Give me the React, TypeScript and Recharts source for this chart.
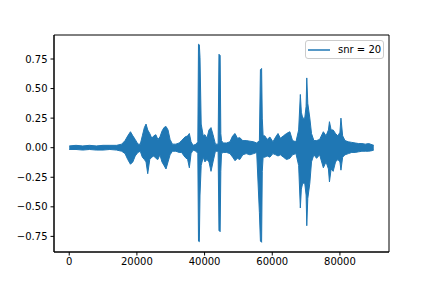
import { Area, ComposedChart, ReferenceArea, XAxis, YAxis } from 'recharts';

// Waveform envelope: sample index, upper and lower excursion
const sampleIdx = [
  0, 2000, 4000, 6000, 8000, 10000, 12000, 14000, 15500, 16500, 17300, 18100, 18800, 19500,
  20300, 21000, 21600, 22200, 22700, 23200, 23800, 24400, 25000, 25600, 26200, 26800, 27400,
  28000, 28600, 29200, 29800, 30500, 31500, 32500, 33200, 34200, 35000, 35500, 36000, 36600,
  37500, 38000, 38200, 38450, 38650, 39000, 39600, 40100, 40700, 41300, 41900, 42500, 43200,
  44000, 44250, 44600, 44800, 45000, 45500, 46500, 47500, 48300, 49000, 49700, 50400, 51300,
  52300, 53400, 54500, 55400, 56200, 56500, 56850, 57050, 57300, 57800, 58500, 59300, 60200,
  61000, 61700, 62400, 63300, 64200, 65200, 66000, 67000, 67800, 68300, 68600, 69000, 69600,
  70000, 70200, 70500, 71100, 71600, 72300, 73100, 74000, 75100, 75900, 76600, 76900, 77400,
  78000, 78700, 79400, 80000, 80300, 80800, 81500, 82500, 83500, 84500, 85500, 86500, 87500,
  88500, 89500, 90000,
];

const upperEnv = [
  0.015, 0.02, 0.015, 0.02, 0.015, 0.02, 0.02, 0.02, 0.03, 0.06, 0.1, 0.135, 0.1, 0.07,
  0.03, 0.03, 0.1, 0.17, 0.2, 0.15, 0.12, 0.08, 0.1, 0.11, 0.07, 0.09, 0.14,
  0.17, 0.18, 0.15, 0.07, 0.03, 0.03, 0.04, 0.06, 0.09, 0.1, 0.12, 0.05, 0.02,
  0.03, 0.05, 0.875, 0.87, 0.76, 0.2, 0.1, 0.11, 0.08, 0.15, 0.17, 0.11, 0.03,
  0.03, 0.79, 0.78, 0.12, 0.06, 0.04, 0.04, 0.05, 0.1, 0.12, 0.08, 0.085, 0.06,
  0.06, 0.055, 0.05, 0.04, 0.06, 0.66, 0.67, 0.25, 0.1, 0.1, 0.07, 0.09, 0.05,
  0.09, 0.12, 0.08, 0.1, 0.12, 0.135, 0.06, 0.05, 0.15, 0.45, 0.3, 0.25, 0.25,
  0.35, 0.59, 0.375, 0.25, 0.12, 0.06, 0.06, 0.07, 0.135, 0.1, 0.15, 0.22, 0.15,
  0.15, 0.12, 0.1, 0.13, 0.25, 0.1, 0.06, 0.05, 0.045, 0.04, 0.035, 0.035, 0.03,
  0.035, 0.025, 0.02,
];

const lowerEnv = [
  -0.015, -0.015, -0.02, -0.015, -0.02, -0.02, -0.015, -0.02, -0.03, -0.05, -0.1, -0.14, -0.12, -0.07,
  -0.04, -0.03, -0.08, -0.1, -0.12, -0.22, -0.1, -0.08, -0.07, -0.09, -0.1, -0.06, -0.12,
  -0.15, -0.18, -0.12, -0.06, -0.03, -0.03, -0.04, -0.04, -0.08, -0.1, -0.17, -0.05, -0.02,
  -0.03, -0.05, -0.79, -0.795, -0.4, -0.15, -0.08, -0.12, -0.1, -0.12, -0.2, -0.12, -0.03,
  -0.03, -0.7, -0.71, -0.2, -0.05, -0.04, -0.04, -0.05, -0.08, -0.11, -0.09, -0.1, -0.06,
  -0.05, -0.06, -0.05, -0.04, -0.55, -0.79, -0.8, -0.2, -0.08, -0.08, -0.07, -0.08, -0.05,
  -0.06, -0.07, -0.06, -0.08, -0.1, -0.09, -0.06, -0.05, -0.15, -0.51, -0.35, -0.3, -0.3,
  -0.4, -0.66, -0.43, -0.3, -0.12, -0.06, -0.09, -0.06, -0.17, -0.12, -0.18, -0.29, -0.18,
  -0.2, -0.12, -0.1, -0.12, -0.19, -0.08, -0.06, -0.05, -0.04, -0.04, -0.035, -0.03, -0.03,
  -0.03, -0.025, -0.02,
];

const xTicks = [0, 20000, 40000, 60000, 80000];
const yTicks = [-0.75, -0.5, -0.25, 0, 0.25, 0.5, 0.75];
const seriesName = 'snr = 20';

const BLUE = '#1f77b4';
const X_DOMAIN: [number, number] = [-4500, 94500];
const Y_DOMAIN: [number, number] = [-0.882, 0.953];

const data = sampleIdx.map((x, i) => ({ x, range: [lowerEnv[i], upperEnv[i]] }));

const fmtY = (v: number) => {
  const s = Math.abs(v).toFixed(2);
  return v < 0 ? '\u2212' + s : s;
};

// legend box drawn as an overlay so it doesn't eat into the plot area
function LegendBox() {
  return (
    <div
      style={{
        position: 'absolute',
        left: 305,
        top: 40,
        border: '1px solid #cccccc',
        borderRadius: 3,
        background: 'rgba(255,255,255,0.8)',
        height: 17,
        width: 77,
        display: 'flex',
        alignItems: 'center',
        fontFamily: 'DejaVu Sans, sans-serif',
        fontSize: 10,
        color: '#000',
      }}
    >
      <svg width={32} height={16} style={{ display: 'block' }}>
        <line x1={2} x2={24} y1={8} y2={8} stroke={BLUE} strokeWidth={1.5} />
      </svg>
      <span style={{ whiteSpace: 'nowrap' }}>{seriesName}</span>
    </div>
  );
}

export default function App() {
  const tickStyle = { fill: '#000', fontSize: 10, fontFamily: 'DejaVu Sans, sans-serif' };
  return (
    <div style={{ position: 'absolute', left: 0, top: 0, width: 432, height: 288, background: '#fff' }}>
      <ComposedChart width={432} height={288} data={data} margin={{ top: 35, right: 43, left: 0, bottom: 6 }}>
        <XAxis
          dataKey="x"
          type="number"
          domain={X_DOMAIN}
          allowDataOverflow
          ticks={xTicks}
          tickFormatter={(v: number) => String(v)}
          tick={tickStyle}
          tickSize={3.5}
          tickMargin={2}
          tickLine={{ stroke: '#000' }}
          axisLine={{ stroke: '#000' }}
          height={30}
        />
        <YAxis
          type="number"
          domain={Y_DOMAIN}
          allowDataOverflow
          ticks={yTicks}
          tickFormatter={fmtY}
          tick={tickStyle}
          tickSize={3.5}
          tickMargin={3}
          tickLine={{ stroke: '#000' }}
          axisLine={{ stroke: '#000' }}
          width={54}
        />
        <ReferenceArea
          x1={X_DOMAIN[0]}
          x2={X_DOMAIN[1]}
          y1={Y_DOMAIN[0]}
          y2={Y_DOMAIN[1]}
          fill="none"
          stroke="#000"
          strokeWidth={1}
        />
        <Area
          dataKey="range"
          type="linear"
          name={seriesName}
          stroke={BLUE}
          strokeWidth={1}
          fill={BLUE}
          fillOpacity={1}
          dot={false}
          activeDot={false}
          isAnimationActive={false}
        />
      </ComposedChart>
      <LegendBox />
    </div>
  );
}
